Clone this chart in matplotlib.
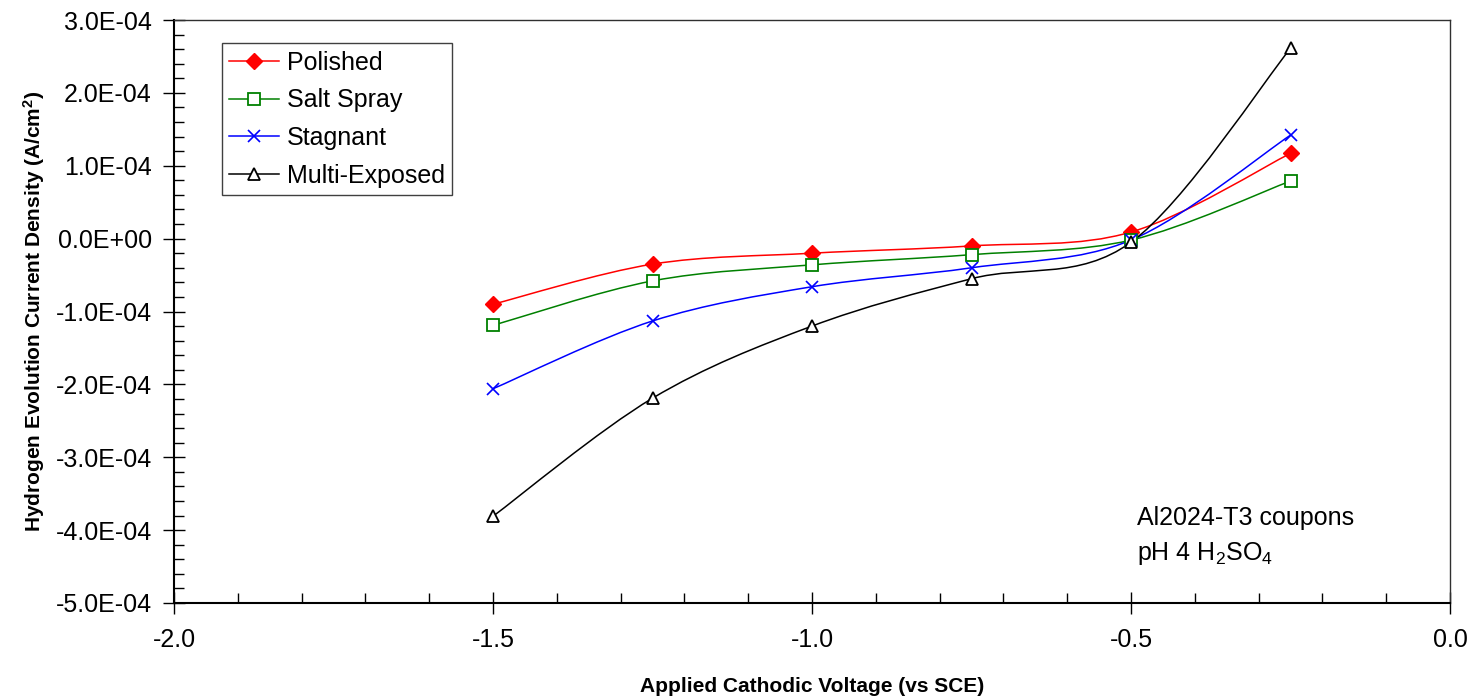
"""Hydrogen evolution current density vs applied cathodic voltage (Al2024-T3)."""

import numpy as np
import matplotlib
matplotlib.use("Agg")
import matplotlib.pyplot as plt
from matplotlib.lines import Line2D
from matplotlib.path import Path
from matplotlib.patches import PathPatch
from matplotlib.ticker import FixedLocator, MultipleLocator, FuncFormatter

plt.rcParams["font.family"] = ["Liberation Sans", "DejaVu Sans"]
plt.rcParams["mathtext.default"] = "regular"

VOLTAGE = [-1.5, -1.25, -1.0, -0.75, -0.5, -0.25]
POLISHED = [-9.0e-5, -3.5e-5, -2.0e-5, -1.0e-5, 0.9e-5, 1.17e-4]
SALT_SPRAY = [-1.19e-4, -5.8e-5, -3.6e-5, -2.2e-5, -0.2e-5, 7.9e-5]
STAGNANT = [-2.06e-4, -1.13e-4, -6.6e-5, -4.0e-5, -0.2e-5, 1.42e-4]
MULTI_EXPOSED = [-3.81e-4, -2.19e-4, -1.20e-4, -5.5e-5, -0.5e-5, 2.61e-4]

SERIES = [
    ("Polished", POLISHED, "#ff0000", dict(marker="D", ms=8.5, mfc="#ff0000", mec="#ff0000")),
    ("Salt Spray", SALT_SPRAY, "#008000", dict(marker="s", ms=8, mfc="white", mec="#008000", mew=1.3)),
    ("Stagnant", STAGNANT, "#0000ff", dict(marker="x", ms=9, mec="#0000ff", mew=1.2)),
    ("Multi-Exposed", MULTI_EXPOSED, "#000000", dict(marker="^", ms=9, mfc="white", mec="#000000", mew=1.3)),
]


def smooth_path(ax, xs, ys):
    """Excel-like smoothed line: cubic Bezier through the points, built in display space."""
    pts = ax.transData.transform(np.column_stack([xs, ys]))
    n = len(pts)
    verts = [pts[0]]
    codes = [Path.MOVETO]
    for i in range(n - 1):
        p_prev = pts[max(i - 1, 0)]
        p0 = pts[i]
        p1 = pts[i + 1]
        p_next = pts[min(i + 2, n - 1)]
        c1 = p0 + (p1 - p_prev) / 6.0
        c2 = p1 - (p_next - p0) / 6.0
        verts += [c1, c2, p1]
        codes += [Path.CURVE4] * 3
    verts = ax.transData.inverted().transform(np.array(verts))
    return Path(verts, codes)


fig = plt.figure(figsize=(14.77, 6.97), dpi=100)
ax = fig.add_axes([174 / 1477, 1 - 603 / 697, (1450 - 174) / 1477, (603 - 20) / 697])
ax.set_xlim(-2.0, 0.0)
ax.set_ylim(-5e-4, 3e-4)

handles = []
for label, vals, color, mk in SERIES:
    path = smooth_path(ax, VOLTAGE, vals)
    ax.add_patch(PathPatch(path, facecolor="none", edgecolor=color, lw=1.1, zorder=2))
    ax.plot(VOLTAGE, vals, linestyle="none", zorder=3, clip_on=False, **mk)
    handles.append(Line2D([], [], color=color, lw=1.1, **mk))

leg = ax.legend(handles, [s[0] for s in SERIES], loc="upper left",
                bbox_to_anchor=(0.0376, 0.9605), borderaxespad=0, fontsize=18,
                fancybox=False, framealpha=1, edgecolor="#404040",
                handlelength=2.0, labelspacing=0.55, handletextpad=0.3,
                borderpad=0.3)
leg.get_frame().set_linewidth(1.0)

# ticks
ax.xaxis.set_major_locator(FixedLocator([-2.0, -1.5, -1.0, -0.5, 0.0]))
ax.xaxis.set_minor_locator(MultipleLocator(0.1))
ax.yaxis.set_major_locator(FixedLocator(np.arange(-5, 4) * 1e-4))
ax.yaxis.set_minor_locator(MultipleLocator(2e-5))
ax.xaxis.set_major_formatter(FuncFormatter(lambda v, p: f"{0.0 if abs(v) < 1e-9 else v:.1f}"))
ax.yaxis.set_major_formatter(FuncFormatter(lambda v, p: f"{0.0 if abs(v) < 1e-12 else v:.1E}"))
ax.tick_params(which="major", direction="inout", length=16, width=1.0, labelsize=18)
ax.tick_params(which="minor", direction="in", length=7, width=1.0)
ax.tick_params(axis="y", which="major", pad=8)
ax.tick_params(axis="x", which="major", pad=10)

for side in ("left", "bottom"):
    ax.spines[side].set_linewidth(1.5)
for side in ("top", "right"):
    ax.spines[side].set_linewidth(1.0)
    ax.spines[side].set_color("#303030")

ax.set_xlabel("Applied Cathodic Voltage (vs SCE)", fontsize=15, fontweight="bold", labelpad=18)
ax.set_ylabel("Hydrogen Evolution Current Density (A/cm$^2$)", fontsize=15,
              fontweight="bold", labelpad=6)

ax.text(-0.491, -4.09e-4, "Al2024-T3 coupons\npH 4 H$_2$SO$_4$", fontsize=18,
        ha="left", va="center", linespacing=1.5)

fig.savefig("out.png", dpi=100)
